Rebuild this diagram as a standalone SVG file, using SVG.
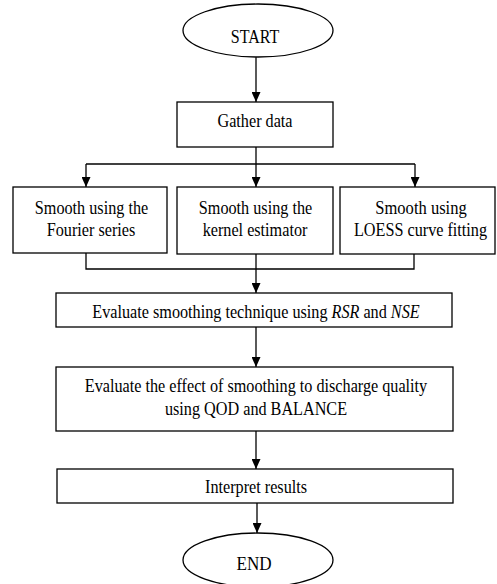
<svg xmlns="http://www.w3.org/2000/svg" width="497" height="584" viewBox="0 0 497 584">
  <style>
    .shape { fill: #ffffff; stroke: #000000; stroke-width: 1.3; }
    .conn { fill: none; stroke: #000000; stroke-width: 1.3; }
    .label { font-family: "Liberation Serif", "Times New Roman", serif; font-size: 18px; fill: #000000; text-anchor: middle; }
    .it { font-style: italic; }
  </style>
  <defs>
    <marker id="arrow" markerUnits="userSpaceOnUse" markerWidth="10" markerHeight="9" refX="10" refY="4.5" orient="auto">
      <path d="M0,0 L10,4.5 L0,9 Z" fill="#000000"/>
    </marker>
  </defs>
  <rect width="497" height="584" fill="#ffffff"/>

  <g id="connectors">
    <path class="conn" d="M256,57 V102" marker-end="url(#arrow)"/>
    <path class="conn" d="M256,147 V187" marker-end="url(#arrow)"/>
    <path class="conn" d="M86,164 H415"/>
    <path class="conn" d="M86,164 V187" marker-end="url(#arrow)"/>
    <path class="conn" d="M415,164 V187" marker-end="url(#arrow)"/>
    <path class="conn" d="M86,253 V269 H414 V254"/>
    <path class="conn" d="M256,254 V293" marker-end="url(#arrow)"/>
    <path class="conn" d="M256,327 V367" marker-end="url(#arrow)"/>
    <path class="conn" d="M256,431 V469" marker-end="url(#arrow)"/>
    <path class="conn" d="M257,503 V533" marker-end="url(#arrow)"/>
  </g>

  <!-- labels use a narrowed serif: translate to the anchor point, then squeeze horizontally -->
  <g id="start">
    <ellipse class="shape" cx="258" cy="30.5" rx="75" ry="26.5"/>
    <text class="label" transform="translate(255,43) scale(0.89,1)">START</text>
  </g>

  <g id="gather">
    <rect class="shape" x="177" y="102" width="156" height="45"/>
    <text class="label" transform="translate(255,127) scale(0.9,1)">Gather data</text>
  </g>

  <g id="fourier">
    <rect class="shape" x="13" y="187" width="154" height="66"/>
    <text class="label" transform="translate(91.5,214) scale(0.9,1)">Smooth using the</text>
    <text class="label" transform="translate(91,236) scale(0.9,1)">Fourier series</text>
  </g>

  <g id="kernel">
    <rect class="shape" x="177" y="187" width="156" height="67"/>
    <text class="label" transform="translate(255.5,214) scale(0.9,1)">Smooth using the</text>
    <text class="label" transform="translate(255,236) scale(0.9,1)">kernel estimator</text>
  </g>

  <g id="loess">
    <rect class="shape" x="340" y="187" width="155" height="67"/>
    <text class="label" transform="translate(421,214) scale(0.92,1)">Smooth using</text>
    <text class="label" transform="translate(420.5,236) scale(0.9,1)">LOESS curve fitting</text>
  </g>

  <g id="evaluate-technique">
    <rect class="shape" x="56" y="293" width="396" height="34"/>
    <text class="label" transform="translate(256,318) scale(0.9,1)">Evaluate smoothing technique using <tspan class="it">RSR</tspan> and <tspan class="it">NSE</tspan></text>
  </g>

  <g id="evaluate-effect">
    <rect class="shape" x="56" y="367" width="397" height="64"/>
    <text class="label" transform="translate(256,392) scale(0.9,1)">Evaluate the effect of smoothing to discharge quality</text>
    <text class="label" transform="translate(256,415) scale(0.9,1)">using QOD and BALANCE</text>
  </g>

  <g id="interpret">
    <rect class="shape" x="57" y="469" width="396" height="34"/>
    <text class="label" transform="translate(256,493) scale(0.9,1)">Interpret results</text>
  </g>

  <g id="end">
    <ellipse class="shape" cx="258" cy="560" rx="75" ry="27"/>
    <text class="label" transform="translate(254,570) scale(0.95,1)">END</text>
  </g>
</svg>
